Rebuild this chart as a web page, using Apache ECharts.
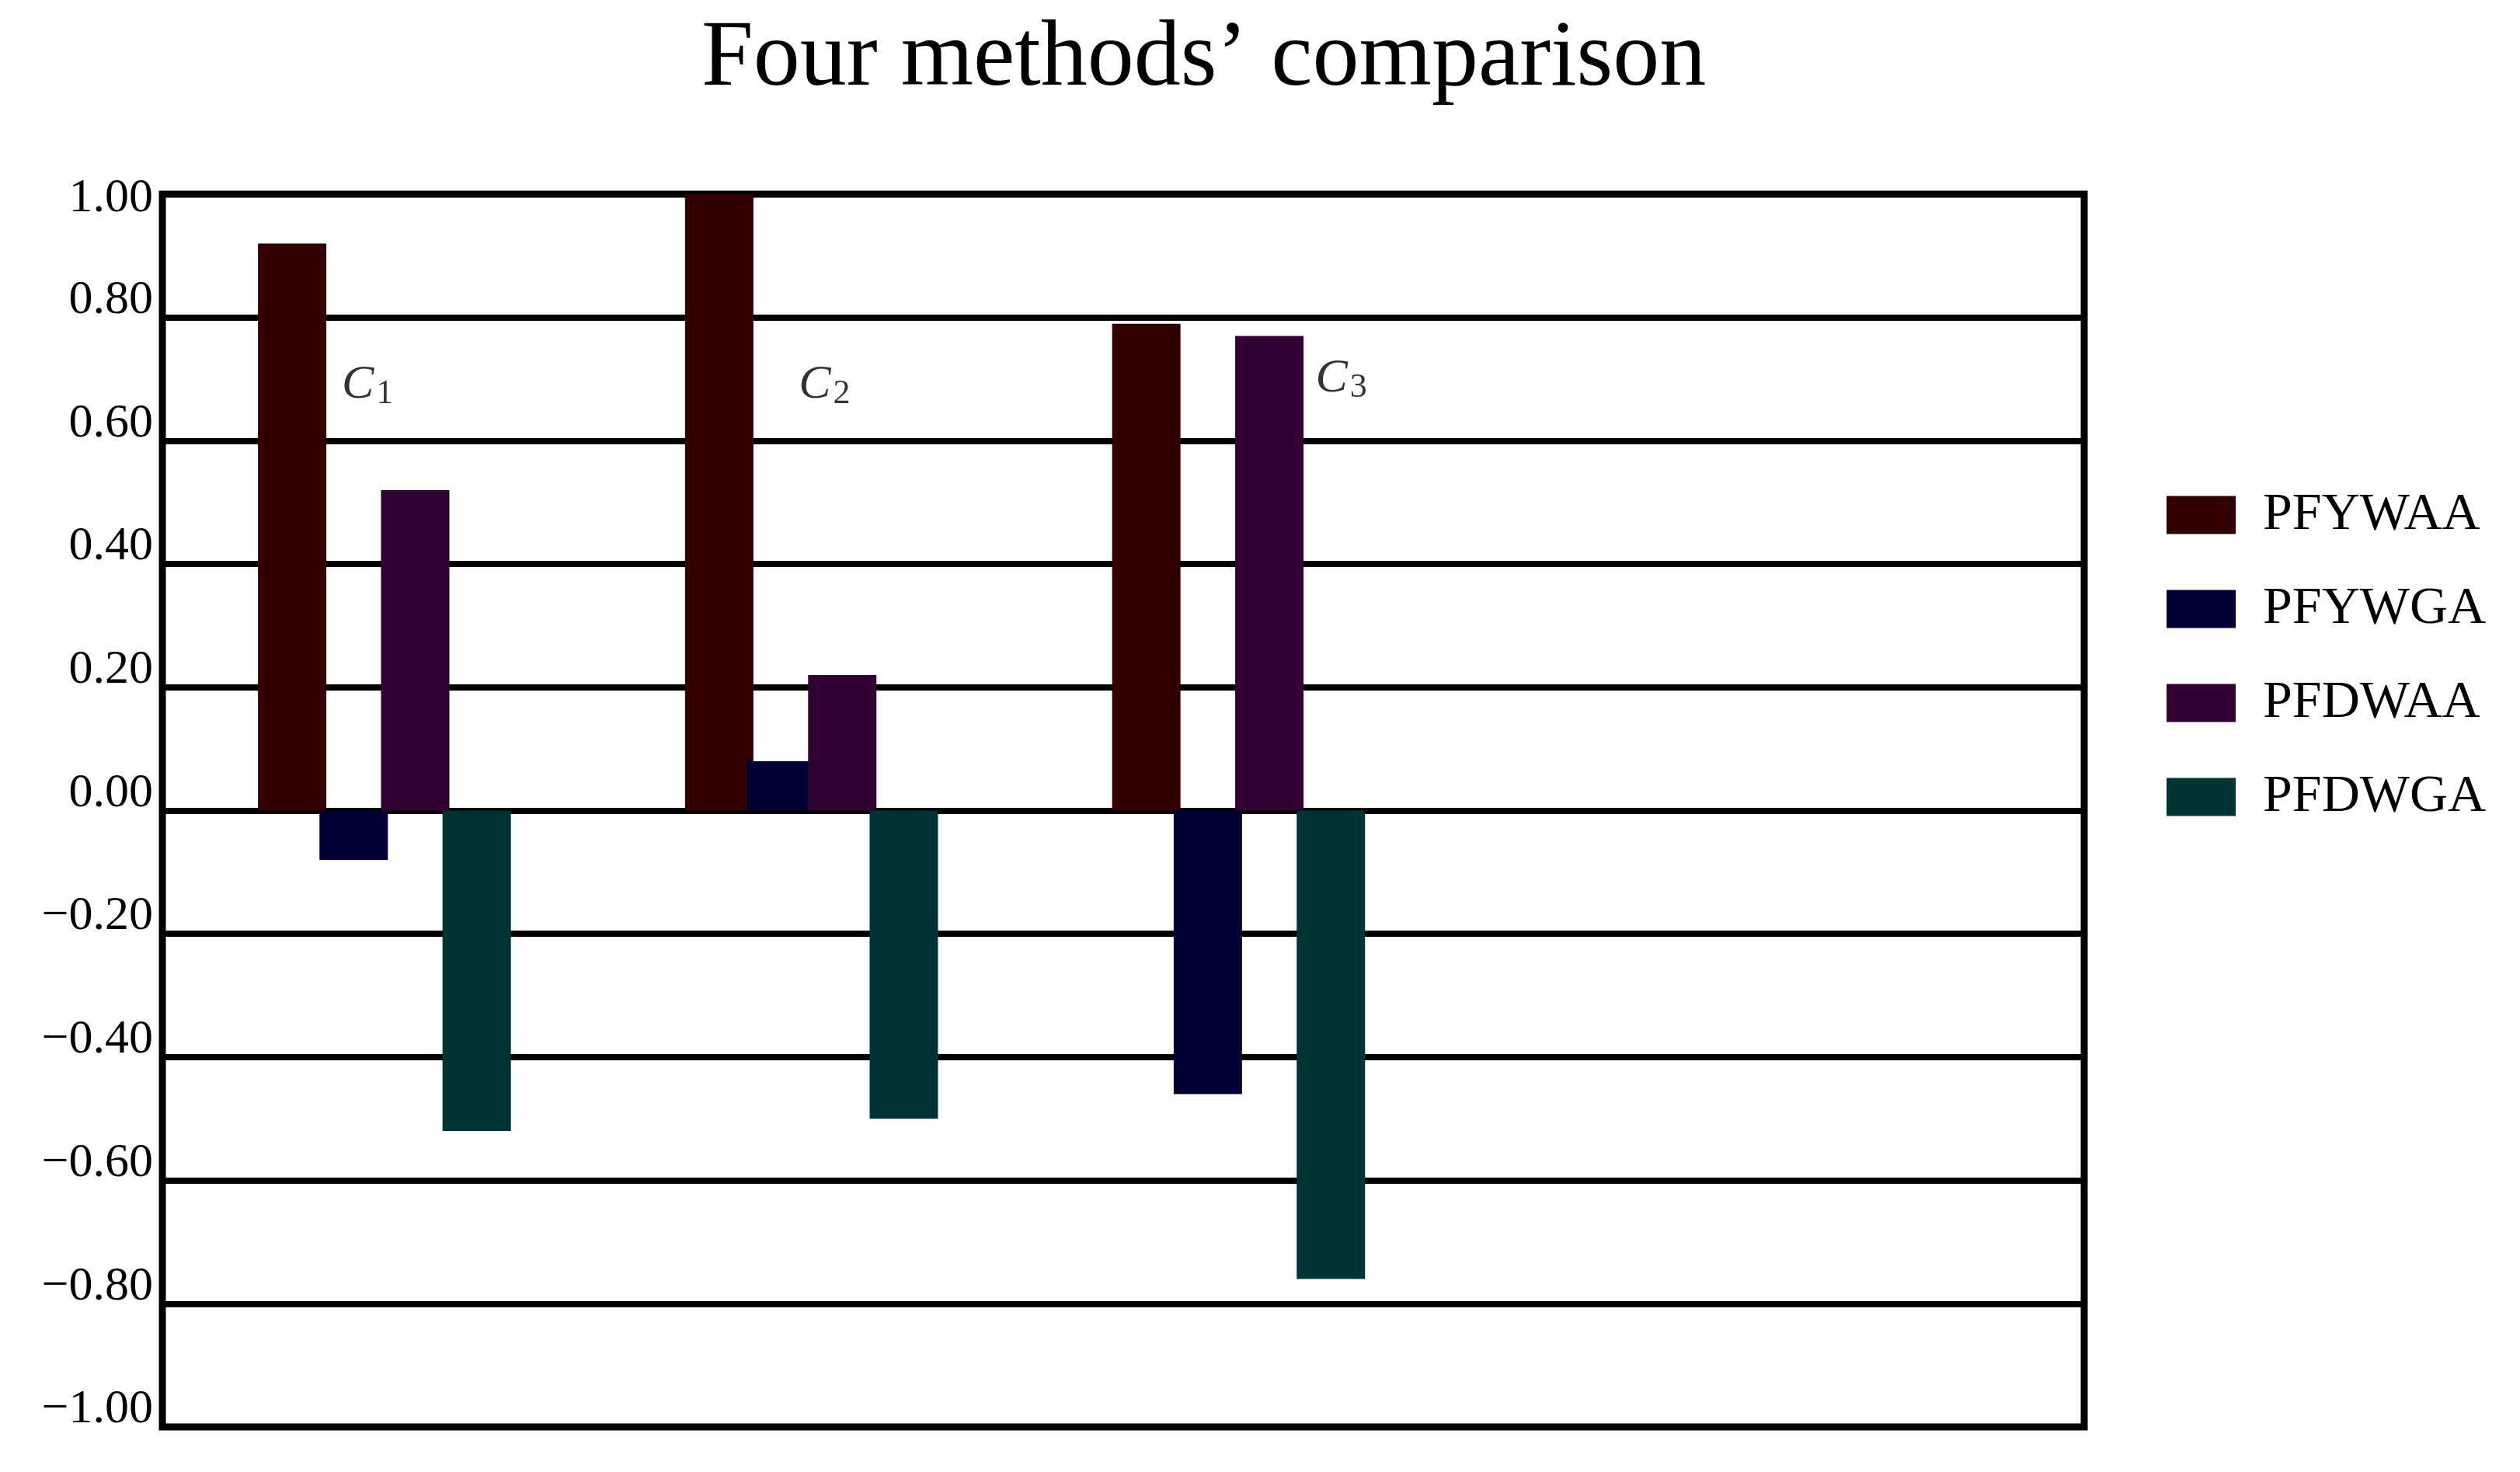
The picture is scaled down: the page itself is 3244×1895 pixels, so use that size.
<!DOCTYPE html>
<html>
<head>
<meta charset="utf-8">
<title>Four methods’ comparison</title>
<script src="https://cdn.jsdelivr.net/npm/echarts@6/dist/echarts.min.js"></script>
<style>
    html, body { margin: 0; padding: 0; background: #fff; }
    #chart { width: 3244px; height: 1895px; }
</style>
</head>
<body>
<div id="chart"></div>
<script>
// 数据
const groups = ['1', '2', '3'];           // C 的下标
const groupPositions = [1, 2, 3];         // 各组在横轴上的位置
const methods = ['PFYWAA', 'PFYWGA', 'PFDWAA', 'PFDWGA'];
const pfywaa = [0.92, 1.00, 0.79];
const pfywga = [-0.08, 0.08, -0.46];
const pfdwaa = [0.52, 0.22, 0.77];
const pfdwga = [-0.52, -0.50, -0.76];
const yTicks = [-1.0, -0.8, -0.6, -0.4, -0.2, 0, 0.2, 0.4, 0.6, 0.8, 1.0];

// C_i 标注的位置（数据坐标）
const groupLabelAnchors = [[0.90, 0.69], [1.97, 0.69], [3.18, 0.70]];

const colors = ['#330000', '#000033', '#330033', '#003333'];
const serif = '"Liberation Serif", "DejaVu Serif", serif';

document.addEventListener('DOMContentLoaded', function() {
    const chart = echarts.init(document.getElementById('chart'));
    const seriesValues = [pfywaa, pfywga, pfdwaa, pfdwga];
    const yMax = yTicks[yTicks.length - 1];

    const barSeries = methods.map(function(name, i) {
        return {
            name: name,
            type: 'bar',
            barWidth: 88,
            barGap: '-10%',
            itemStyle: { color: colors[i] },
            data: groupPositions.map(function(x, j) { return [x, seriesValues[i][j]]; })
        };
    });

    // C_1, C_2, C_3 标注
    const labelSeries = {
        type: 'scatter',
        symbolSize: 0,
        silent: true,
        z: 5,
        data: groupLabelAnchors.map(function(p, j) {
            return { value: p, sub: groups[j] };
        }),
        label: {
            show: true,
            position: 'right',
            distance: 0,
            formatter: function(p) { return '{c|C}{s|' + p.data.sub + '}'; },
            rich: {
                c: { fontFamily: serif, fontStyle: 'italic', fontSize: 62, color: '#000' },
                s: { fontFamily: serif, fontSize: 44, color: '#000', padding: [22, 0, 0, 3] }
            }
        }
    };

    const tickText = { fontFamily: serif, fontSize: 62, color: '#000' };

    const option = {
        animation: false,
        backgroundColor: '#fff',
        title: {
            text: 'Four methods’ comparison',
            left: 903,
            top: 17,
            padding: 0,
            textStyle: {
                fontFamily: serif,
                fontSize: 120,
                lineHeight: 120,
                fontWeight: 'normal',
                color: '#000'
            }
        },
        legend: {
            data: methods,
            orient: 'vertical',
            left: 2784,
            top: 624,
            itemWidth: 89,
            itemHeight: 49,
            itemGap: 53,
            icon: 'rect',
            textStyle: {
                fontFamily: serif,
                fontSize: 68,
                color: '#000',
                padding: [0, 0, 0, 30]
            }
        },
        grid: {
            left: 209,
            top: 250,
            width: 2474,
            height: 1587,
            show: true,
            borderColor: '#000',
            borderWidth: 9,
            backgroundColor: 'transparent'
        },
        xAxis: {
            type: 'value',
            min: 0.48,
            max: 4.98,
            axisLine: { show: false },
            axisTick: { show: false },
            axisLabel: { show: false },
            splitLine: { show: false }
        },
        yAxis: {
            type: 'value',
            min: yTicks[0],
            max: yMax,
            interval: 0.2,
            axisLine: { show: false },
            axisTick: { show: false },
            splitLine: { show: true, lineStyle: { color: '#000', width: 8 } },
            axisLabel: {
                fontFamily: serif,
                fontSize: 62,
                color: '#000',
                margin: 12,
                formatter: function(v) {
                    const s = Math.abs(v).toFixed(2);
                    const txt = v < -1e-9 ? '\u2212' + s : s;
                    return Math.abs(v - yMax) < 1e-9 ? '{t|' + txt + '}' : '{n|' + txt + '}';
                },
                rich: {
                    n: Object.assign({ padding: [0, 0, 44, 0] }, tickText),
                    t: Object.assign({ padding: [12, 0, 0, 0] }, tickText)
                }
            }
        },
        series: barSeries.concat([labelSeries])
    };

    chart.setOption(option);
});
</script>
</body>
</html>
